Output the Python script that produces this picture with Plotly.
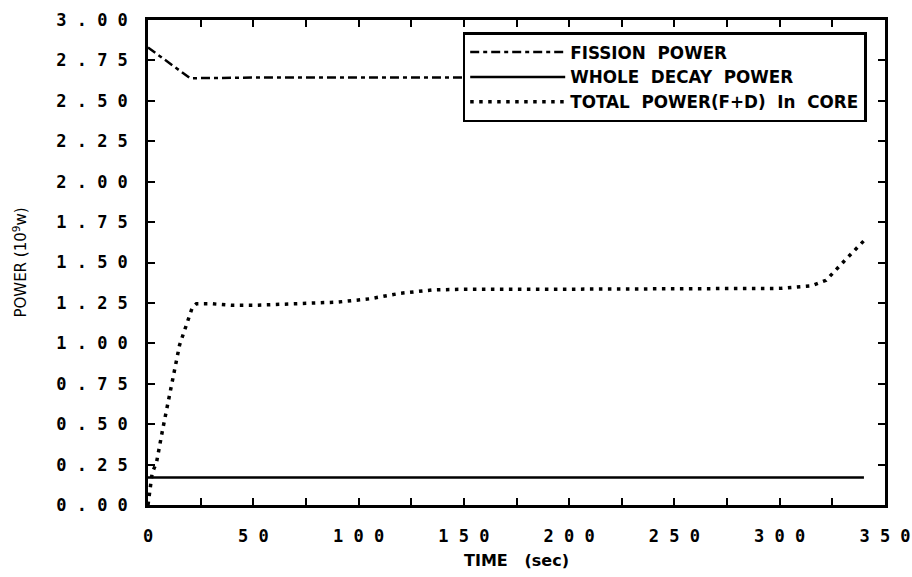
import plotly.graph_objects as go

# ---- data ----
fission_t = [0, 20, 60, 100, 150, 200, 250, 300, 340]
fission_p = [2.83, 2.64, 2.645, 2.645, 2.645, 2.645, 2.645, 2.645, 2.645]

decay_t = [0, 340]
decay_p = [0.17, 0.17]

total_t = [0, 1, 2, 4, 7, 15, 21, 23, 30, 40, 50, 70, 90, 105, 120, 135, 150,
           200, 250, 300, 315, 322, 330, 340]
total_p = [0.0, 0.12, 0.2, 0.26, 0.47, 0.99, 1.22, 1.245, 1.245, 1.235, 1.235, 1.245,
           1.255, 1.275, 1.31, 1.33, 1.335, 1.335, 1.335, 1.34, 1.355, 1.39, 1.50, 1.635]

x_ticks = [0, 50, 100, 150, 200, 250, 300, 350]
x_ticktext = ["0", "5 0", "1 0 0", "1 5 0", "2 0 0", "2 5 0", "3 0 0", "3 5 0"]
y_ticks = [0, 0.25, 0.5, 0.75, 1.0, 1.25, 1.5, 1.75, 2.0, 2.25, 2.5, 2.75, 3.0]
y_ticktext = ["0 . 0 0", "0 . 2 5", "0 . 5 0", "0 . 7 5", "1 . 0 0", "1 . 2 5",
              "1 . 5 0", "1 . 7 5", "2 . 0 0", "2 . 2 5", "2 . 5 0", "2 . 7 5", "3 . 0 0"]

fig = go.Figure()
fig.add_trace(go.Scatter(x=fission_t, y=fission_p, mode="lines", name="FISSION  POWER",
                         line=dict(color="black", width=2.5, dash="9px,4px,4px,4px")))
fig.add_trace(go.Scatter(x=decay_t, y=decay_p, mode="lines", name="WHOLE  DECAY  POWER",
                         line=dict(color="black", width=2.5)))
fig.add_trace(go.Scatter(x=total_t, y=total_p, mode="lines", name="TOTAL  POWER(F+D)  In  CORE",
                         line=dict(color="black", width=3.5, dash="3.5px,5.5px")))

tickfont = dict(family="DejaVu Sans Mono", size=17, color="black", weight="bold")

fig.update_layout(
    width=912, height=577,
    margin=dict(l=148, r=27, t=20, b=72),
    paper_bgcolor="white", plot_bgcolor="white",
    showlegend=True,
    legend=dict(x=0.427, y=0.975, xanchor="left", yanchor="top",
                bgcolor="white", bordercolor="black", borderwidth=2.5,
                itemwidth=95,
                font=dict(family="DejaVu Sans", size=16.8, color="black", weight="bold")),
    xaxis=dict(range=[0, 350], tickvals=x_ticks, ticktext=x_ticktext,
               automargin=False, showgrid=False, zeroline=False,
               showline=True, linecolor="black", linewidth=2.5, mirror="ticks",
               ticks="inside", ticklen=7, tickwidth=2, tickcolor="black",
               minor=dict(dtick=25, ticks="inside", ticklen=7, tickwidth=2, tickcolor="black"),
               tickfont=tickfont, ticklabelstandoff=14,
               title=dict(text="TIME   (sec)", standoff=10,
                          font=dict(family="DejaVu Sans", size=16, color="black", weight="bold"))),
    yaxis=dict(range=[0, 3.0], tickvals=y_ticks, ticktext=y_ticktext,
               automargin=False, showgrid=False, zeroline=False,
               showline=True, linecolor="black", linewidth=2.5, mirror="ticks",
               ticks="inside", ticklen=7, tickwidth=2, tickcolor="black",
               tickfont=tickfont, ticklabelstandoff=14,
               title=dict(text="POWER (10<sup>9</sup>w)", standoff=26,
                          font=dict(family="DejaVu Sans", size=15, color="black"))),
)

fig.write_html("out.html")
